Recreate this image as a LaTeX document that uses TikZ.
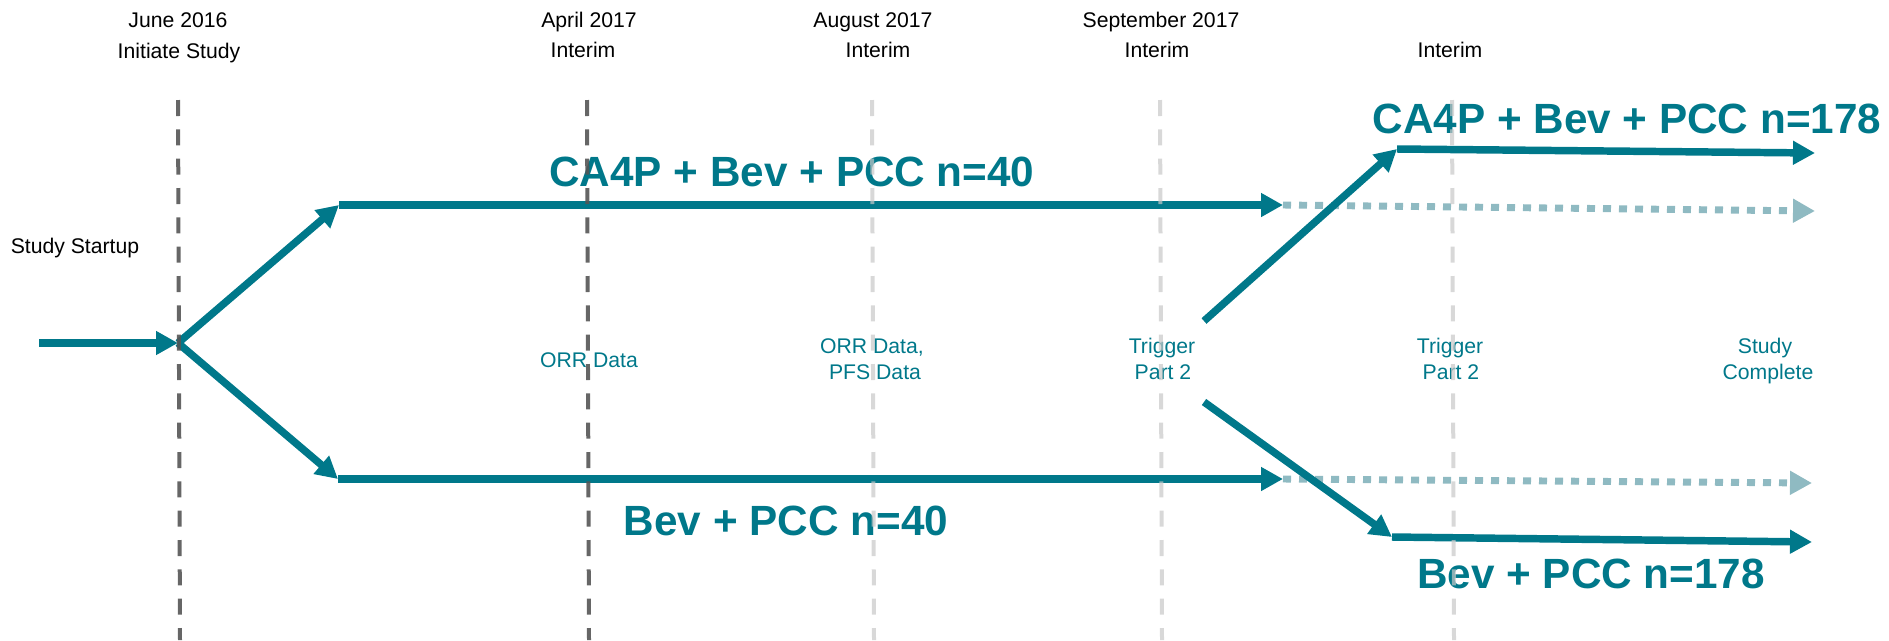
\documentclass[tikz,border=0pt]{standalone}
\usepackage{fontspec}
\setmainfont{Liberation Sans}
\usetikzlibrary{arrows.meta}
\definecolor{tealA}{HTML}{00788A}
\definecolor{tealL}{HTML}{8FBAC2}
\definecolor{gDark}{HTML}{555555}
\definecolor{gLight}{HTML}{C8C8C8}
\begin{document}
\begin{tikzpicture}[x=0.75pt,y=-0.75pt,
 flow/.style={line width=5.6pt, draw=tealA, -{Triangle[length=16.5pt,width=17pt]}},
 flowplain/.style={line width=5.6pt, draw=tealA},
 ghost/.style={line width=5.2pt, draw=tealL, dash pattern=on 6pt off 6pt, -{Triangle[length=16.5pt,width=17pt]}},
 vdark/.style={line width=3pt, draw=gDark, draw opacity=0.9, dash pattern=on 12pt off 10pt},
 vlight/.style={line width=3pt, draw=gLight, draw opacity=0.7, dash pattern=on 12pt off 10pt},
 toplab/.style={font=\fontsize{15.9}{19}\selectfont, anchor=base, inner sep=0pt},
 note/.style={font=\fontsize{15.9}{19}\selectfont, text=tealA, anchor=base, inner sep=0pt},
 big/.style={font=\bfseries\fontsize{31.7}{38}\selectfont, text=tealA, anchor=base, inner sep=0pt}]
\useasboundingbox (0,0) rectangle (1889,640);

% coordinates
\coordinate (S0) at (39,343);
\coordinate (J) at (178,343);
\coordinate (U1) at (339,205);
\coordinate (UA) at (1283,205);
\coordinate (UD) at (1815,211);
\coordinate (L1) at (338,479);
\coordinate (LA) at (1283,479);
\coordinate (LD) at (1812,483);
\coordinate (UR0) at (1204,321);
\coordinate (UR1) at (1397,149);
\coordinate (URE) at (1815,153);
\coordinate (LR0) at (1204,402);
\coordinate (LR1) at (1392,537);
\coordinate (LRE) at (1812,542);

% dotted continuations
\draw[ghost] (UA) -- (UD);
\draw[ghost] (LA) -- (LD);

% main flows
\draw[flow] (S0) -- (J);
\draw[flow] (J) -- (U1);
\draw[flow] (J) -- (L1);
\draw[flow] (U1) -- (UA);
\draw[flow] (L1) -- (LA);
\draw[flow] (UR0) -- (UR1);
\draw[flow] (UR1) -- (URE);
\draw[flow] (LR0) -- (LR1);
\draw[flow] (LR1) -- (LRE);

% top labels
\node[toplab] (d1) at (178,27) {June 2016};
\node[toplab] (e1) at (179,58) {Initiate Study};
\node[toplab] (d2) at (589,27) {April 2017};
\node[toplab] (e2) at (583,57) {Interim};
\node[toplab] (d3) at (873,27) {August 2017};
\node[toplab] (e3) at (878,57) {Interim};
\node[toplab] (d4) at (1161,27) {September 2017};
\node[toplab] (e4) at (1157,57) {Interim};
\node[toplab] (e5) at (1450,57) {Interim};
\node[toplab] (ss) at (75,253) {Study Startup};

% teal notes
\node[note] (n1) at (589,367) {ORR Data};
\node[note] (n2a) at (872,353) {ORR Data,};
\node[note] (n2b) at (875,379) {PFS Data};
\node[note] (n3a) at (1162,353) {Trigger};
\node[note] (n3b) at (1163,379) {Part 2};
\node[note] (n4a) at (1450,353) {Trigger};
\node[note] (n4b) at (1451,379) {Part 2};
\node[note] (n5a) at (1765,353) {Study};
\node[note] (n5b) at (1768,379) {Complete};

% arm labels
\node[big] (a1) at (792,186) {CA4P + Bev + PCC n=40};
\node[big] (a2) at (786,535) {Bev + PCC n=40};
\node[big] (a3) at (1627,133) {CA4P + Bev + PCC n=178};
\node[big] (a4) at (1591,588) {Bev + PCC n=178};

% vertical milestone lines
\coordinate (v1t) at (178,100); \coordinate (v1b) at (180,640);
\coordinate (v2t) at (587,100); \coordinate (v2b) at (589,640);
\coordinate (v3t) at (872,100); \coordinate (v3b) at (874,640);
\coordinate (v4t) at (1160,100); \coordinate (v4b) at (1162,640);
\coordinate (v5t) at (1452,100); \coordinate (v5b) at (1454,640);
\draw[vdark] (v1t) -- (v1b);
\draw[vdark] (v2t) -- (v2b);
\draw[vlight] (v3t) -- (v3b);
\draw[vlight] (v4t) -- (v4b);
\draw[vlight] (v5t) -- (v5b);
\end{tikzpicture}
\end{document}
